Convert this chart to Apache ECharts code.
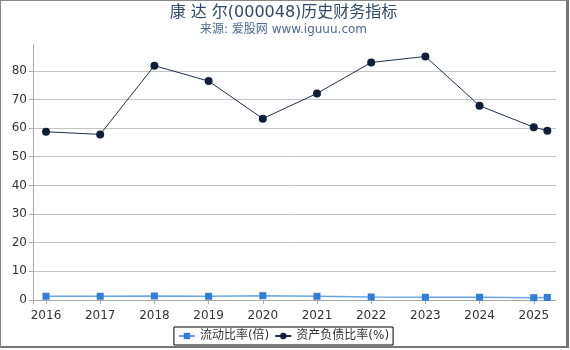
<!DOCTYPE html>
<html>
<head>
<meta charset="utf-8">
<script src="https://cdn.jsdelivr.net/npm/echarts@6/dist/echarts.min.js"></script>
<style>
  html, body { margin: 0; padding: 0; background: #fff; }
  #box {
    width: 569px; height: 348px; box-sizing: border-box;
    border-left: 1px solid #888; border-top: 1px solid #888;
    border-right: 3px solid #777; border-bottom: 2px solid #777;
  }
  #main { width: 565px; height: 345px; }
</style>
</head>
<body>
<div id="box"><div id="main"></div></div>
<script>
// 报告期（年份，2025.25 为 2025 一季度）
const periods = [2016, 2017, 2018, 2019, 2020, 2021, 2022, 2023, 2024, 2025, 2025.25];
// 流动比率(倍)
const currentRatio = [1.3, 1.3, 1.4, 1.3, 1.5, 1.3, 1.05, 0.95, 0.95, 0.8, 0.9];
// 资产负债比率(%)
const debtRatio = [58.7, 57.8, 81.8, 76.4, 63.3, 72.1, 82.9, 85.0, 67.8, 60.3, 59.1];
// 刻度
const yTicks = [0, 10, 20, 30, 40, 50, 60, 70, 80];
const xTicks = [2016, 2017, 2018, 2019, 2020, 2021, 2022, 2023, 2024, 2025];

const font = 'DejaVu Sans, Noto Sans CJK SC, sans-serif';
const chart = echarts.init(document.getElementById('main'));

chart.setOption({
  animation: false,
  textStyle: { fontFamily: font },
  title: {
    text: '康 达 尔(000048)历史财务指标',
    subtext: '来源: 爱股网 www.iguuu.com',
    left: 'center',
    top: -1,
    itemGap: 3,
    textStyle: { fontFamily: font, fontSize: 16, fontWeight: 'normal', color: '#2f4a6d' },
    subtextStyle: { fontFamily: font, fontSize: 12, color: '#4a6a92' }
  },
  legend: {
    bottom: 1,
    left: 'center',
    borderColor: '#000',
    borderWidth: 1,
    padding: [3, 4],
    itemGap: 5,
    itemWidth: 16,
    itemHeight: 8,
    textStyle: { fontFamily: font, fontSize: 12, color: '#333' },
    data: ['流动比率(倍)', '资产负债比率(%)']
  },
  grid: { left: 32, right: 10, top: 44, bottom: 42 },
  xAxis: {
    type: 'value',
    min: 2015.76,
    max: 2025.41,
    splitLine: { show: false },
    axisLine: { lineStyle: { color: '#aaa' } },
    axisTick: { show: true, customValues: xTicks, length: 4, lineStyle: { color: '#aaa' } },
    axisLabel: {
      customValues: xTicks,
      formatter: v => String(Math.round(v)),
      fontFamily: font, fontSize: 12, color: '#333', margin: 6
    }
  },
  yAxis: {
    type: 'value',
    min: -1.4,
    max: 89,
    axisLine: { show: true, lineStyle: { color: '#aaa' } },
    axisTick: { show: true, customValues: yTicks, length: 4, lineStyle: { color: '#aaa' } },
    axisLabel: { customValues: yTicks, fontFamily: font, fontSize: 12, color: '#333', margin: 6 },
    splitLine: { show: true, lineStyle: { color: '#c4c4c4' } }
  },
  series: [
    {
      name: '流动比率(倍)',
      type: 'line',
      data: periods.map((p, i) => [p, currentRatio[i]]),
      symbol: 'rect',
      symbolSize: 7,
      lineStyle: { color: '#6aa6e8', width: 1.5 },
      itemStyle: { color: '#2f7ed8' }
    },
    {
      name: '资产负债比率(%)',
      type: 'line',
      data: periods.map((p, i) => [p, debtRatio[i]]),
      symbol: 'circle',
      symbolSize: 8,
      lineStyle: { color: '#1f2f4a', width: 1 },
      itemStyle: { color: '#0f1f3a' }
    }
  ]
});
</script>
</body>
</html>
